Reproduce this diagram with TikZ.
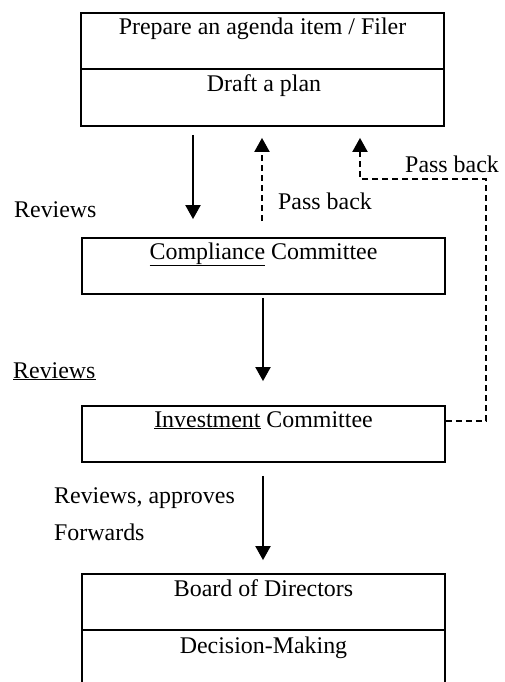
\documentclass[tikz,border=0pt]{standalone}
\usepackage{fontspec}
\setmainfont{Liberation Serif}
\usetikzlibrary{arrows.meta}

\tikzset{
  box/.style={draw, line width=1.8bp, rectangle, minimum width=363bp, inner sep=0pt},
  divider/.style={line width=1.8bp},
  lbl/.style={inner sep=0pt, anchor=base, font=\fontsize{24}{28}\selectfont},
  lblw/.style={lbl, anchor=base west},
  flow/.style={line width=2bp, -{Triangle[length=14bp,width=15bp]}},
  back/.style={flow, dash pattern=on 6bp off 4bp},
}

\begin{document}
\begin{tikzpicture}[x=1bp, y=-1bp]
  \clip (0,0) rectangle (505,682);
  \useasboundingbox (0,0) rectangle (505,682);

  % boxes
  \node[box, minimum height=113bp] (prep) at (262.5,69.5) {};
  \node[box, minimum height=56bp]  (comp) at (263.5,266) {};
  \node[box, minimum height=56bp]  (inv)  at (263.5,434) {};
  \node[box, minimum height=130bp] (board) at (263.5,639) {};

  % split lines inside the two-part boxes
  \draw[divider] (prep.west |- 0,69) -- (prep.east |- 0,69);
  \draw[divider] (board.west |- 0,630) -- (board.east |- 0,630);

  % box texts
  \node[lbl] (t1) at (262.5,35) {Prepare an agenda item / Filer};
  \node[lbl] (t2) at (264,92) {Draft a plan};
  \node[lbl] (t3) at (263.5,259) {\underline{Compliance} Committee};
  \node[lbl] (t4) at (263.5,427) {\underline{Investment} Committee};
  \node[lbl] (t5) at (263.5,596) {Board of Directors};
  \node[lbl] (t6) at (263.5,653) {Decision-Making};

  % side labels
  \node[lblw] (l1) at (14,217) {Reviews};
  \node[lblw] (l2) at (278,209) {Pass back};
  \node[lblw] (l3) at (405,172) {Pass back};
  \node[lblw] (l4) at (13,378) {\underline{Reviews}};
  \node[lblw] (l5) at (54,503) {Reviews, approves};
  \node[lblw] (l6) at (54,540) {Forwards};

  % connector helpers
  \coordinate (c1) at (193,0);
  \coordinate (c2) at (262,0);
  \coordinate (c3) at (263,0);
  \coordinate (ret) at (486,421);
  \coordinate (turn) at (360,179);

  % forward flow
  \draw[flow, shorten <=8bp, shorten >=18bp] (prep.south -| c1) -- (comp.north -| c1);
  \draw[flow, shorten <=3bp, shorten >=24bp] (comp.south -| c3) -- (inv.north -| c3);
  \draw[flow, shorten <=13bp, shorten >=13bp] (inv.south -| c3) -- (board.north -| c3);

  % pass-back paths
  \draw[back, shorten <=16bp, shorten >=11bp] (comp.north -| c2) -- (prep.south -| c2);
  \draw[back, shorten >=11bp] (ret -| inv.east) -- (ret) -- (ret |- turn) -- (turn) -- (turn |- prep.south);
\end{tikzpicture}
\end{document}
